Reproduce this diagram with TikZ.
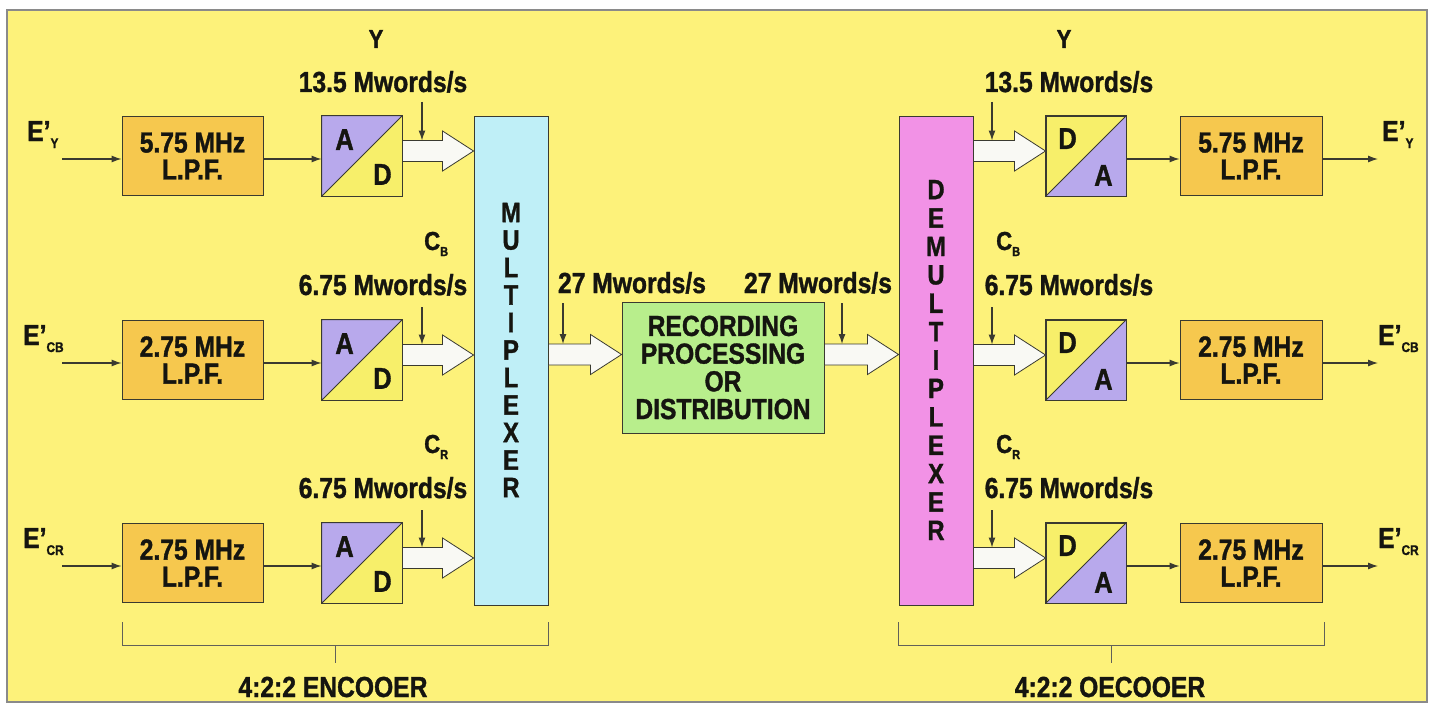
\documentclass[tikz,border=0pt]{standalone}
\usepackage{fontspec}
\setmainfont{Liberation Sans}[FakeStretch=0.85, BoldFeatures={FakeBold=1.2}]
\usetikzlibrary{arrows.meta,calc}
\definecolor{bgcol}{HTML}{FDF27A}
\definecolor{lpfcol}{HTML}{F6C84E}
\definecolor{adpur}{HTML}{B8A9EC}
\definecolor{adyel}{HTML}{F7EF6A}
\definecolor{muxcol}{HTML}{BFEFF7}
\definecolor{demuxcol}{HTML}{F292E6}
\definecolor{greencol}{HTML}{B8EE8C}
\definecolor{arrfill}{HTML}{F9F9F4}
\definecolor{linec}{HTML}{3A3A30}
\definecolor{framecol}{HTML}{8A8A8A}
\definecolor{txtcol}{HTML}{151510}
\newcommand\fA{\fontsize{29}{27}\selectfont\bfseries}
\newcommand\fL{\fontsize{30}{30}\selectfont\bfseries}
\newcommand\fC{\fontsize{26}{26}\selectfont\bfseries}
\newcommand\fE{\fontsize{29}{29}\selectfont\bfseries}
\newcommand\fS{\fontsize{13}{13}\selectfont\bfseries}
\newcommand\fSE{\fontsize{14}{14}\selectfont\bfseries}
\newcommand\adconv[3]{%
  \node[conv, fill=adyel] (#1) at (#2,#3) {};
  \fill[adpur] (#1.south west) -- (#1.north west) -- (#1.north east) -- cycle;
  \draw[boxline] (#1.south west) rectangle (#1.north east) (#1.south west) -- (#1.north east);
  \node[font=\fL, inner sep=0pt] (#1A) at ($(#1.north west)+(23,24)$) {A};
  \node[font=\fL, inner sep=0pt] (#1D) at ($(#1.south east)+(-20,-22)$) {D};}
\newcommand\daconv[3]{%
  \node[conv, fill=adyel] (#1) at (#2,#3) {};
  \fill[adpur] (#1.south west) -- (#1.south east) -- (#1.north east) -- cycle;
  \draw[boxline] (#1.south west) rectangle (#1.north east) (#1.south west) -- (#1.north east);
  \node[font=\fL, inner sep=0pt] (#1D) at ($(#1.north west)+(22,23)$) {D};
  \node[font=\fL, inner sep=0pt] (#1A) at ($(#1.south east)+(-23,-21)$) {A};}
\newcommand\fatarrow[4]{%
  \draw[fat] let \p1=(#1.east), \p2=(#2.west), \p3=(#3.center) in
   (\x1,\y3+#4+10.5pt) -- (\x2-31pt,\y3+#4+10.5pt) -- (\x2-31pt,\y3+#4+20pt) -- (\x2,\y3+#4)
   -- (\x2-31pt,\y3+#4-20pt) -- (\x2-31pt,\y3+#4-10.5pt) -- (\x1,\y3+#4-10.5pt) -- cycle;}
\begin{document}
\begin{tikzpicture}[x=1pt,y=-1pt, text=txtcol,
  boxline/.style={draw=linec, line width=0.9pt},
  box/.style={draw=linec, line width=0.9pt, inner sep=0pt, align=center},
  lpf/.style={box, fill=lpfcol, minimum width=141pt, minimum height=79pt, font=\fA},
  conv/.style={box, minimum width=80pt, minimum height=80pt},
  tarrow/.style={draw=linec, line width=1.1pt, -{Latex[length=10pt,width=7pt]}},
  fat/.style={draw=linec, line width=0.8pt, fill=arrfill},
  bracket/.style={draw=linec!80, line width=1pt},
  lbl/.style={inner sep=0pt, font=\fA, anchor=base},
  clbl/.style={inner sep=0pt, font=\fC, anchor=base west},
  elbl/.style={inner sep=0pt, font=\fE, anchor=base west}
]
\useasboundingbox (0,0) rectangle (1436,709);
\fill[white] (0,0) rectangle (1436,709);
\draw[fill=bgcol, draw=framecol, line width=1.5pt] (7,10) rectangle (1427,702);

% ---------- encoder ----------
\node[lpf] (lpfY) at (192.5,156) {5.75 MHz\\L.P.F.};
\node[lpf] (lpfB) at (192.5,360) {2.75 MHz\\L.P.F.};
\node[lpf] (lpfR) at (192.5,563) {2.75 MHz\\L.P.F.};
\adconv{adY}{362}{156}
\adconv{adB}{362}{360}
\adconv{adR}{362}{563}
\node[box, fill=muxcol, minimum width=74pt, minimum height=489pt] (mux) at (511,360.5) {};
\node[font=\fontsize{28}{27.5}\selectfont\bfseries, align=center, inner sep=0pt] (muxt) at (511,350)
  {M\\U\\L\\T\\I\\P\\L\\E\\X\\E\\R};

% inputs
\node[elbl] (eYl) at (27,141) {E'\raisebox{-7pt}{\fSE Y}};
\node[elbl] (eBl) at (23,345) {E'\raisebox{-7pt}{\fSE CB}};
\node[elbl] (eRl) at (23,548) {E'\raisebox{-7pt}{\fSE CR}};
\coordinate (inY) at (62,159);
\coordinate (inB) at (62,363);
\coordinate (inR) at (62,566);
\draw[tarrow] (inY) -- (inY -| lpfY.west);
\draw[tarrow] (inB) -- (inB -| lpfB.west);
\draw[tarrow] (inR) -- (inR -| lpfR.west);
\draw[tarrow] ([yshift=-3pt]lpfY.east) -- ([yshift=-3pt]adY.west);
\draw[tarrow] ([yshift=-3pt]lpfB.east) -- ([yshift=-3pt]adB.west);
\draw[tarrow] ([yshift=-3pt]lpfR.east) -- ([yshift=-3pt]adR.west);

\fatarrow{adY}{mux}{adY}{5pt}
\fatarrow{adB}{mux}{adB}{5pt}
\fatarrow{adR}{mux}{adR}{5pt}

\node[clbl, anchor=base] (yl1) at (376,48) {Y};
\node[lbl] (rl1) at (383,92) {13.5 Mwords/s};
\node[clbl] (cb1) at (424,250) {C\raisebox{-6pt}{\fS B}};
\node[lbl] (rl2) at (383,295) {6.75 Mwords/s};
\node[clbl] (cr1) at (424,453) {C\raisebox{-6pt}{\fS R}};
\node[lbl] (rl3) at (383,498) {6.75 Mwords/s};
\coordinate (sY1) at (422,102); \coordinate (sY2) at (422,140.5);
\coordinate (sB1) at (422,307); \coordinate (sB2) at (422,344.5);
\coordinate (sR1) at (422,510); \coordinate (sR2) at (422,547.5);
\draw[tarrow] (sY1) -- (sY2);
\draw[tarrow] (sB1) -- (sB2);
\draw[tarrow] (sR1) -- (sR2);

% ---------- middle ----------
\node[box, fill=greencol, minimum width=202pt, minimum height=131pt,
  font=\fontsize{29}{27.7}\selectfont\bfseries] (rec) at (723,367.5)
  {RECORDING\\PROCESSING\\OR\\DISTRIBUTION};
\node[box, fill=demuxcol, minimum width=74pt, minimum height=489pt] (demux) at (936,360.5) {};
\node[font=\fontsize{28}{28.4}\selectfont\bfseries, align=center, inner sep=0pt] (demuxt) at (936,360)
  {D\\E\\M\\U\\L\\T\\I\\P\\L\\E\\X\\E\\R};
\fatarrow{mux}{rec}{rec}{13pt}
\fatarrow{rec}{demux}{rec}{13pt}
\node[lbl] (ml1) at (632,293) {27 Mwords/s};
\node[lbl] (ml2) at (818,293) {27 Mwords/s};
\coordinate (sm1) at (563,303); \coordinate (sm2) at (563,344);
\coordinate (sn1) at (842,303); \coordinate (sn2) at (842,344);
\draw[tarrow] (sm1) -- (sm2);
\draw[tarrow] (sn1) -- (sn2);

% ---------- decoder ----------
\daconv{daY}{1086}{156}
\daconv{daB}{1086}{360}
\daconv{daR}{1086}{563}
\node[lpf, minimum width=142pt] (olpfY) at (1251,156) {5.75 MHz\\L.P.F.};
\node[lpf, minimum width=142pt] (olpfB) at (1251,360) {2.75 MHz\\L.P.F.};
\node[lpf, minimum width=142pt] (olpfR) at (1251,563) {2.75 MHz\\L.P.F.};
\fatarrow{demux}{daY}{daY}{5pt}
\fatarrow{demux}{daB}{daB}{5pt}
\fatarrow{demux}{daR}{daR}{5pt}
\draw[tarrow] ([yshift=-3pt]daY.east) -- ([yshift=-3pt]olpfY.west);
\draw[tarrow] ([yshift=-3pt]daB.east) -- ([yshift=-3pt]olpfB.west);
\draw[tarrow] ([yshift=-3pt]daR.east) -- ([yshift=-3pt]olpfR.west);
\coordinate (oY) at (1378,159);
\coordinate (oB) at (1378,363);
\coordinate (oR) at (1378,566);
\draw[tarrow] (oY -| olpfY.east) -- (oY);
\draw[tarrow] (oB -| olpfB.east) -- (oB);
\draw[tarrow] (oR -| olpfR.east) -- (oR);
\node[elbl] (eYr) at (1382,141) {E'\raisebox{-7pt}{\fSE Y}};
\node[elbl] (eBr) at (1378,345) {E'\raisebox{-7pt}{\fSE CB}};
\node[elbl] (eRr) at (1378,548) {E'\raisebox{-7pt}{\fSE CR}};

\node[clbl, anchor=base] (yl2) at (1064,48) {Y};
\node[lbl] (dl1) at (1069,92) {13.5 Mwords/s};
\node[clbl] (cb2) at (996,250) {C\raisebox{-6pt}{\fS B}};
\node[lbl] (dl2) at (1069,295) {6.75 Mwords/s};
\node[clbl] (cr2) at (996,453) {C\raisebox{-6pt}{\fS R}};
\node[lbl] (dl3) at (1069,498) {6.75 Mwords/s};
\coordinate (tY1) at (992,102); \coordinate (tY2) at (992,140.5);
\coordinate (tB1) at (992,307); \coordinate (tB2) at (992,344.5);
\coordinate (tR1) at (992,510); \coordinate (tR2) at (992,547.5);
\draw[tarrow] (tY1) -- (tY2);
\draw[tarrow] (tB1) -- (tB2);
\draw[tarrow] (tR1) -- (tR2);

% ---------- brackets ----------
\coordinate (bl1) at (122,622); \coordinate (bl2) at (548,622);
\coordinate (bt1) at (335,645); \coordinate (bt2) at (335,663);
\draw[bracket] (bl1) -- (bl1 |- bt1) -- (bl2 |- bt1) -- (bl2);
\draw[bracket] (bt1) -- (bt2);
\node[lbl] (enc) at (333,697) {4:2:2 ENCOOER};
\coordinate (br1) at (898,622); \coordinate (br2) at (1324,622);
\coordinate (bu1) at (1111,645); \coordinate (bu2) at (1111,663);
\draw[bracket] (br1) -- (br1 |- bu1) -- (br2 |- bu1) -- (br2);
\draw[bracket] (bu1) -- (bu2);
\node[lbl] (dec) at (1110,697) {4:2:2 OECOOER};
\end{tikzpicture}
\end{document}
